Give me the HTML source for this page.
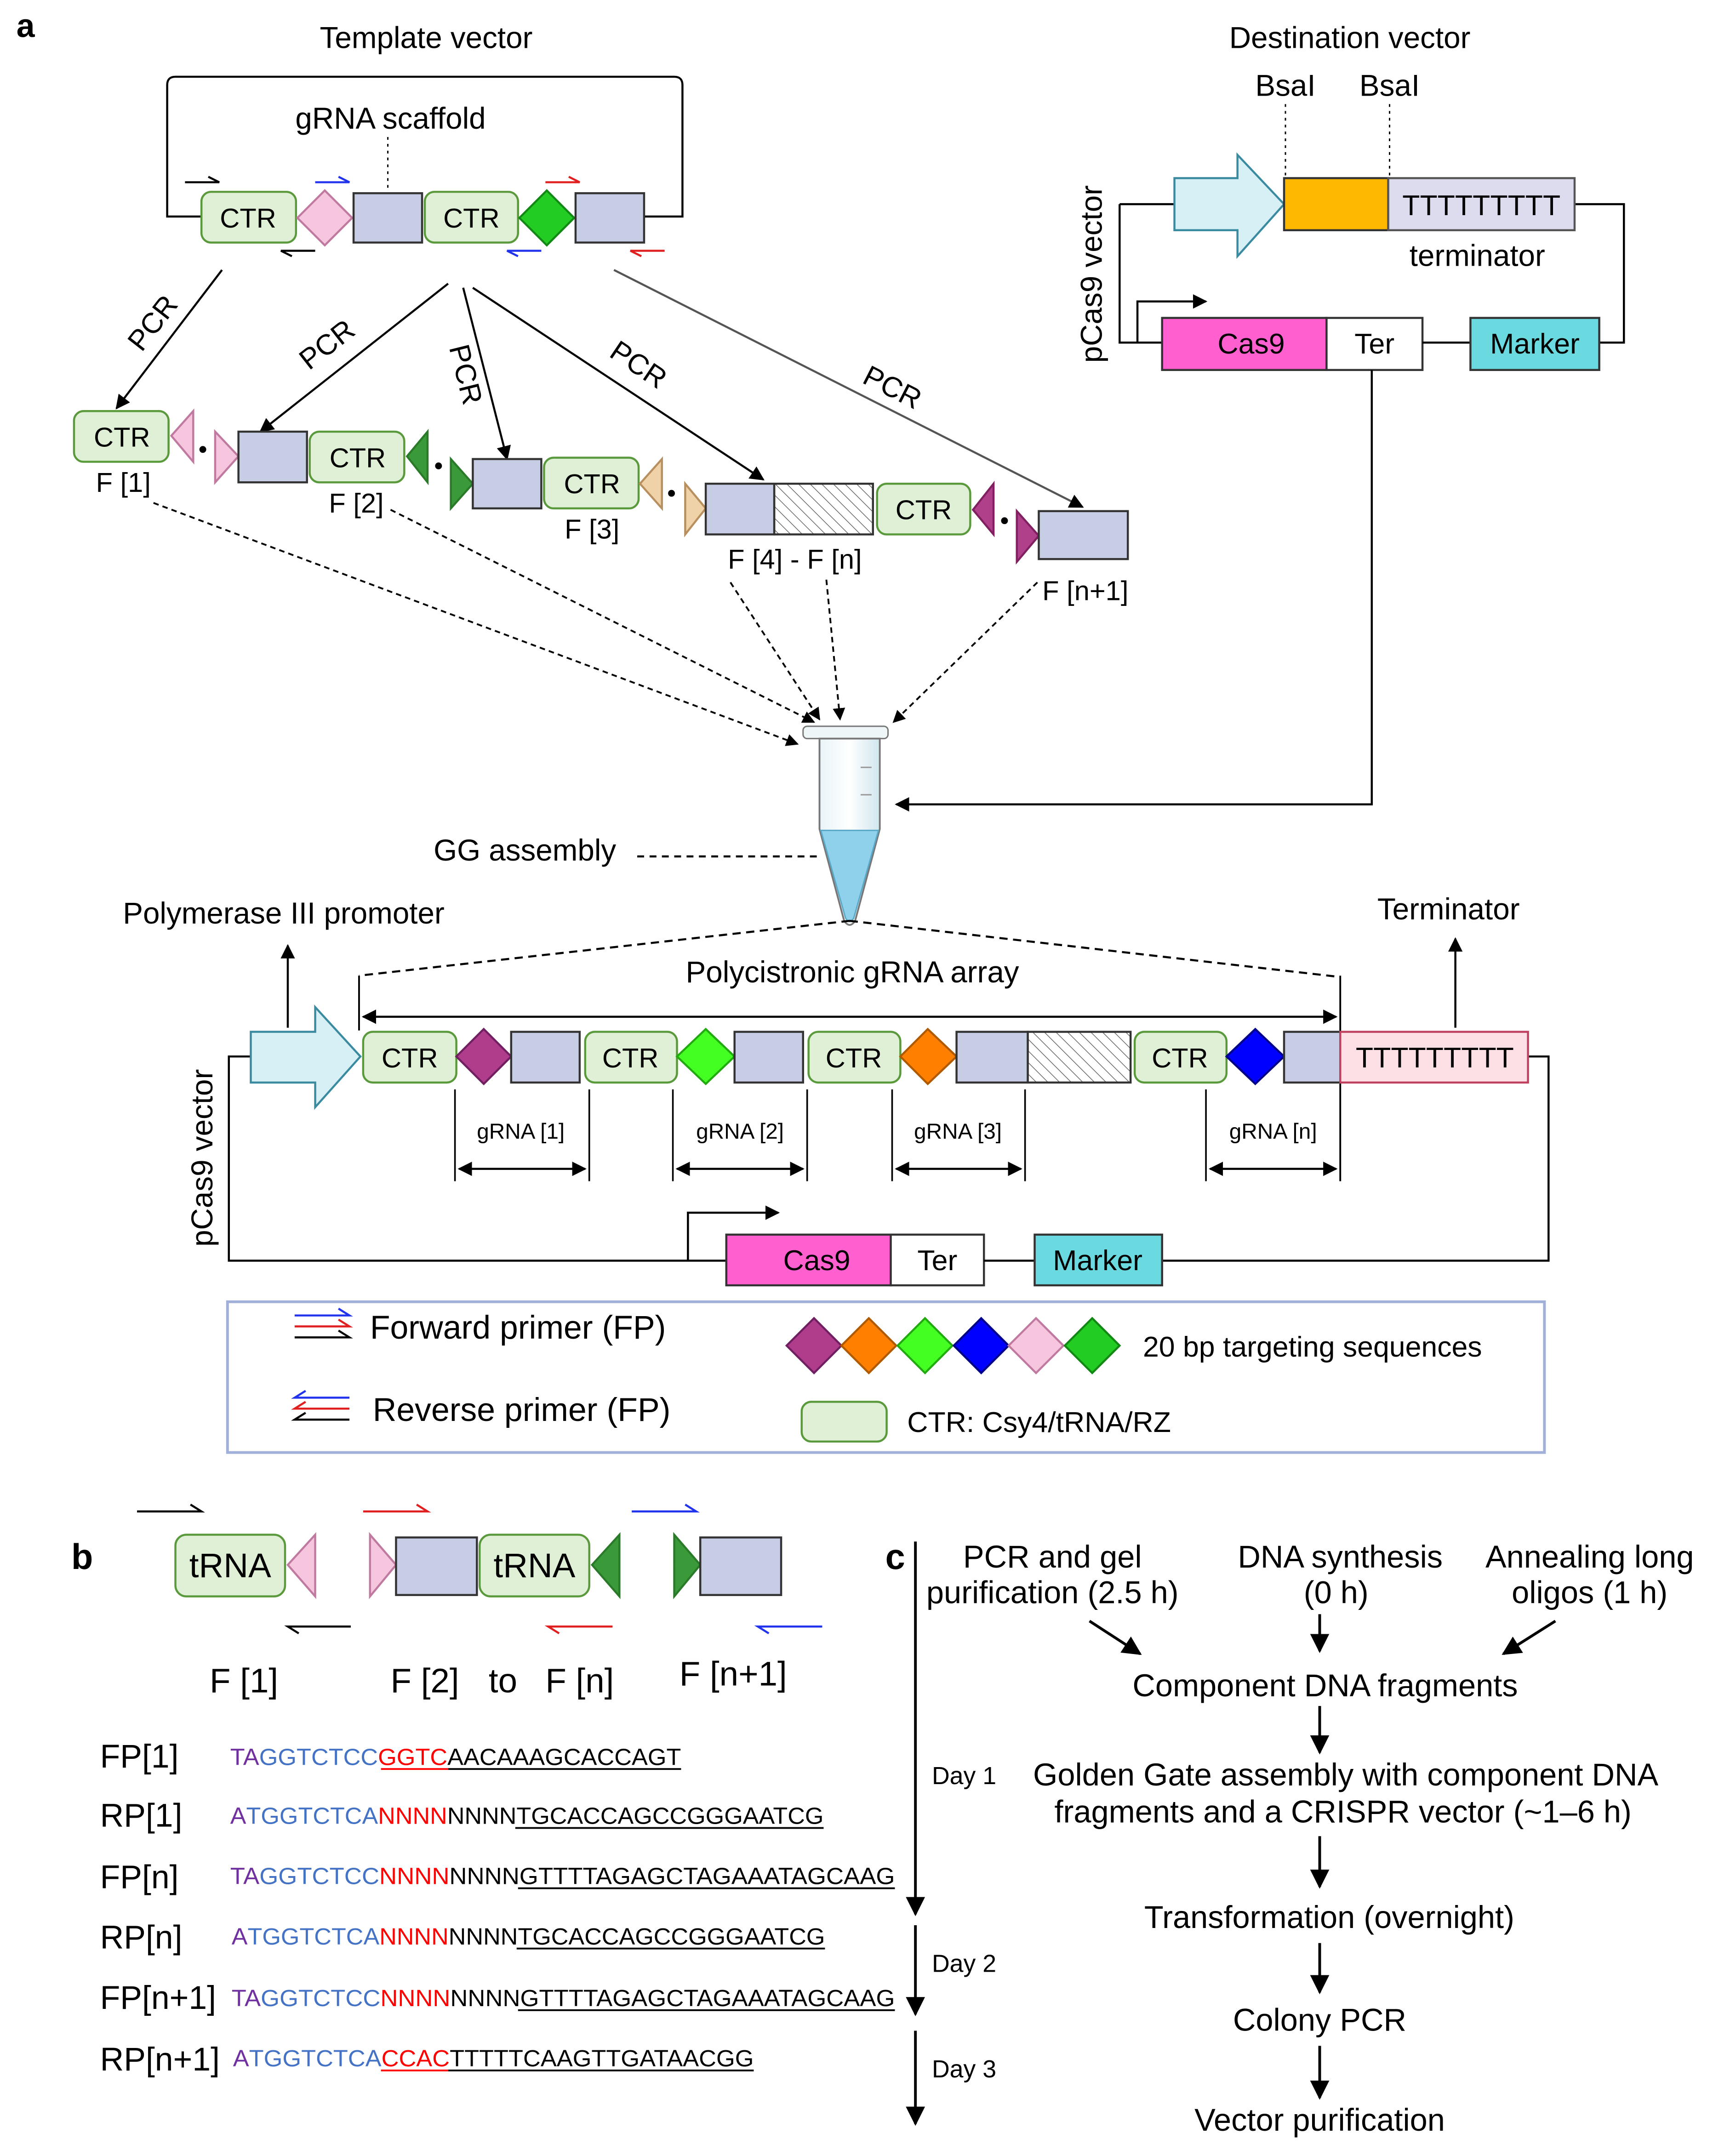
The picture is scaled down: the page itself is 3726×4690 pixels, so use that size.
<!DOCTYPE html>
<html><head><meta charset="utf-8"><style>html,body{margin:0;padding:0;background:#fff}svg{display:block}</style></head><body>
<svg xmlns="http://www.w3.org/2000/svg" width="3726" height="4690" viewBox="0 0 1250 1573.4" font-family="Liberation Sans, Arial, sans-serif">
<defs>
<marker id="ah" viewBox="0 0 10 10" refX="9" refY="5" markerWidth="7" markerHeight="7" orient="auto-start-reverse"><path d="M0,0 L10,5 L0,10 z" fill="#000"/></marker>
<pattern id="hatch" width="6" height="6" patternUnits="userSpaceOnUse" patternTransform="rotate(-45)"><rect width="6" height="6" fill="#fff"/><line x1="0" y1="0" x2="0" y2="6" stroke="#666" stroke-width="1"/></pattern>
<linearGradient id="tubeg" x1="0" x2="1"><stop offset="0" stop-color="#e8f4f8"/><stop offset="0.5" stop-color="#fff"/><stop offset="1" stop-color="#d0e6ee"/></linearGradient>
</defs>
<rect width="1250" height="1573.4" fill="#fff"/>
<g font-size="22" fill="#000">
<text x="12" y="27" font-size="24" font-weight="bold">a</text>
<text x="311" y="35" text-anchor="middle">Template vector</text>
<path d="M147,158 H122 V62 Q122,56 128,56 H492 Q498,56 498,62 V158 H470" fill="none" stroke="#000" stroke-width="1.5"/>
<text x="285" y="94" text-anchor="middle">gRNA scaffold</text>
<line x1="283" y1="100" x2="283" y2="140" stroke="#000" stroke-dasharray="2,3"/>
<g stroke-width="1.5">
<rect x="147" y="140" width="69" height="37" rx="7" fill="#dff0d6" stroke="#5a9a3c"/>
<path d="M237,139 L257,159 L237,179 L217,159z" fill="#f5c6de" stroke="#c07aa0"/>
<rect x="258" y="141" width="50" height="36" fill="#c8cde6" stroke="#333"/>
<rect x="310" y="140" width="68" height="37" rx="7" fill="#dff0d6" stroke="#5a9a3c"/>
<path d="M399,139 L419,159 L399,179 L379,159z" fill="#22cc22" stroke="#148814"/>
<rect x="420" y="141" width="50" height="36" fill="#c8cde6" stroke="#333"/>
</g>
<g font-size="20"><text x="181" y="166" text-anchor="middle">CTR</text><text x="344" y="166" text-anchor="middle">CTR</text></g>
<g fill="none" stroke-width="1.5">
<path d="M135,133 H160 L152,129" stroke="#000"/><path d="M230,183 H205 L213,187" stroke="#000"/>
<path d="M230,133 H255 L247,129" stroke="#2233ee"/><path d="M395,183 H370 L378,187" stroke="#2233ee"/>
<path d="M398,133 H423 L415,129" stroke="#e02020"/><path d="M485,183 H460 L468,187" stroke="#e02020"/>
</g>

<!-- destination vector -->
<text x="985" y="35" text-anchor="middle">Destination vector</text>
<text x="938" y="70" text-anchor="middle">BsaI</text><text x="1014" y="70" text-anchor="middle">BsaI</text>
<line x1="938" y1="76" x2="938" y2="130" stroke="#000" stroke-dasharray="2,3"/>
<line x1="1014" y1="76" x2="1014" y2="130" stroke="#000" stroke-dasharray="2,3"/>
<path d="M817,149 V250 H848 M1149,149 H1185 V250 H1167 M857,149 H817" fill="none" stroke="#000" stroke-width="1.5"/>
<path d="M857,130 H903 V113 L937,149 L903,187 V168 H857z" fill="#d6f0f5" stroke="#3a8aa0" stroke-width="1.5"/>
<rect x="937" y="130" width="76" height="38" fill="#ffb800" stroke="#333" stroke-width="1.5"/>
<rect x="1013" y="130" width="136" height="38" fill="#dcdcee" stroke="#555" stroke-width="1.5"/>
<text x="1081" y="157" text-anchor="middle" font-size="21">TTTTTTTTT</text>
<text x="1078" y="194" text-anchor="middle">terminator</text>
<text transform="translate(804,200) rotate(-90)" text-anchor="middle">pCas9 vector</text>
<path d="M830,250 V220 H880" fill="none" stroke="#000" stroke-width="1.5" marker-end="url(#ah)"/>
<rect x="848" y="232" width="120" height="38" fill="#ff5fcf" stroke="#333" stroke-width="1.5"/>
<rect x="968" y="232" width="70" height="38" fill="#fff" stroke="#333" stroke-width="1.5"/>
<line x1="1038" y1="250" x2="1073" y2="250" stroke="#000" stroke-width="1.5"/>
<rect x="1073" y="232" width="94" height="38" fill="#6bd9e0" stroke="#333" stroke-width="1.5"/>
<g font-size="21"><text x="913" y="258" text-anchor="middle">Cas9</text><text x="1003" y="258" text-anchor="middle">Ter</text><text x="1120" y="258" text-anchor="middle">Marker</text></g>
<path d="M1001,270 V587 H654" fill="none" stroke="#000" stroke-width="1.5" marker-end="url(#ah)"/>

<!-- PCR arrows -->
<g stroke="#000" stroke-width="1.5" marker-end="url(#ah)">
<line x1="162" y1="197" x2="85" y2="298"/>
<line x1="327" y1="207" x2="190" y2="315"/>
<line x1="338" y1="210" x2="370" y2="335"/>
<line x1="345" y1="210" x2="557" y2="350"/>
<line x1="448" y1="197" x2="790" y2="370" stroke="#555"/>
</g>
<g font-size="21">
<text transform="translate(117,240) rotate(-52)" text-anchor="middle">PCR</text>
<text transform="translate(243,257) rotate(-38)" text-anchor="middle">PCR</text>
<text transform="translate(333,275) rotate(76)" text-anchor="middle">PCR</text>
<text transform="translate(462,272) rotate(34)" text-anchor="middle">PCR</text>
<text transform="translate(648,289) rotate(27)" text-anchor="middle">PCR</text>
</g>

<!-- fragments -->
<g stroke-width="1.5">
<rect x="54" y="300" width="69" height="37" rx="7" fill="#dff0d6" stroke="#5a9a3c"/>
<path d="M125,318 L141,300 V337z" fill="#f5c6de" stroke="#c07aa0"/>
<path d="M157,315 L174,333 L157,352z" fill="#f5c6de" stroke="#c07aa0"/>
<rect x="174" y="315" width="50" height="37" fill="#c8cde6" stroke="#333"/>
<rect x="226" y="315" width="69" height="37" rx="7" fill="#dff0d6" stroke="#5a9a3c"/>
<path d="M297,333 L312,315 V352z" fill="#3a9a3a" stroke="#2a7a2a"/>
<path d="M329,335 L345,353 L329,371z" fill="#3a9a3a" stroke="#2a7a2a"/>
<rect x="345" y="335" width="50" height="36" fill="#c8cde6" stroke="#333"/>
<rect x="397" y="334" width="69" height="37" rx="7" fill="#dff0d6" stroke="#5a9a3c"/>
<path d="M467,353 L483,335 V371z" fill="#f0d2a8" stroke="#b89060"/>
<path d="M500,353 L515,371 L500,390z" fill="#f0d2a8" stroke="#b89060"/>
<rect x="515" y="353" width="50" height="37" fill="#c8cde6" stroke="#333"/>
<rect x="565" y="353" width="72" height="37" fill="url(#hatch)" stroke="#333"/>
<rect x="640" y="353" width="68" height="37" rx="7" fill="#dff0d6" stroke="#5a9a3c"/>
<path d="M710,372 L725,353 V390z" fill="#b0408a" stroke="#802060"/>
<path d="M742,373 L758,391 L742,410z" fill="#b0408a" stroke="#802060"/>
<rect x="758" y="373" width="65" height="35" fill="#c8cde6" stroke="#333"/>
</g>
<circle cx="148" cy="328" r="2.5"/><circle cx="320" cy="340" r="2.5"/><circle cx="490" cy="360" r="2.5"/><circle cx="733" cy="380" r="2.5"/>
<g font-size="20">
<text x="89" y="326" text-anchor="middle">CTR</text><text x="261" y="341" text-anchor="middle">CTR</text><text x="432" y="360" text-anchor="middle">CTR</text><text x="674" y="379" text-anchor="middle">CTR</text>
<text x="90" y="359" text-anchor="middle">F [1]</text><text x="260" y="374" text-anchor="middle">F [2]</text><text x="432" y="393" text-anchor="middle">F [3]</text>
<text x="580" y="415" text-anchor="middle">F [4] - F [n]</text><text x="792" y="438" text-anchor="middle">F [n+1]</text>
</g>

<g stroke="#000" stroke-width="1.3" stroke-dasharray="4,3" marker-end="url(#ah)" fill="none">
<line x1="112" y1="367" x2="582" y2="543"/>
<line x1="285" y1="372" x2="594" y2="527"/>
<line x1="533" y1="425" x2="598" y2="525"/>
<line x1="603" y1="423" x2="613" y2="525"/>
<line x1="757" y1="425" x2="652" y2="527"/>
</g>

<!-- tube -->
<rect x="586" y="530" width="62" height="9" rx="3" fill="#eef6f8" stroke="#777"/>
<path d="M598,539 H642 V605 L624,672 Q620,678 616,672 L598,605z" fill="url(#tubeg)" stroke="#777" stroke-width="1.3"/>
<path d="M599,606 H641 L623,670 Q620,675 617,670z" fill="#8fd0ea" stroke="#5aa8c8"/>
<line x1="628" y1="560" x2="636" y2="560" stroke="#999"/><line x1="628" y1="580" x2="636" y2="580" stroke="#999"/>

<text x="383" y="628" text-anchor="middle">GG assembly</text>
<line x1="465" y1="625" x2="600" y2="625" stroke="#000" stroke-dasharray="5,4" stroke-width="1.5"/>
<text x="207" y="674" text-anchor="middle">Polymerase III promoter</text>
<text x="1057" y="671" text-anchor="middle">Terminator</text>
<path d="M620,672 L262,712 M620,672 L978,713" stroke="#000" stroke-dasharray="6,4" stroke-width="1.5" fill="none"/>
<text x="622" y="717" text-anchor="middle">Polycistronic gRNA array</text>
<line x1="265" y1="742" x2="975" y2="742" stroke="#000" stroke-width="1.5" marker-start="url(#ah)" marker-end="url(#ah)"/>
<line x1="262" y1="712" x2="262" y2="752" stroke="#000" stroke-width="1.3"/>
<line x1="978" y1="712" x2="978" y2="862" stroke="#000" stroke-width="1.3"/>
<line x1="210" y1="750" x2="210" y2="690" stroke="#000" stroke-width="1.5" marker-end="url(#ah)"/>
<line x1="1062" y1="750" x2="1062" y2="685" stroke="#000" stroke-width="1.5" marker-end="url(#ah)"/>

<!-- array -->
<path d="M183,771 H167 V920 H530 M1115,771 H1130 V920 H848" fill="none" stroke="#000" stroke-width="1.5"/>
<g stroke-width="1.5">
<path d="M183,753 H230 V735 L263,771 L230,808 V790 H183z" fill="#d6f0f5" stroke="#3a8aa0"/>
<rect x="265" y="753" width="68" height="37" rx="7" fill="#dff0d6" stroke="#5a9a3c"/>
<path d="M353,751 L373,771 L353,791 L333,771z" fill="#b03c8c" stroke="#702060"/>
<rect x="373" y="753" width="50" height="37" fill="#c8cde6" stroke="#333"/>
<rect x="427" y="753" width="67" height="37" rx="7" fill="#dff0d6" stroke="#5a9a3c"/>
<path d="M515,751 L536,771 L515,791 L494,771z" fill="#44ff22" stroke="#22aa10"/>
<rect x="536" y="753" width="50" height="37" fill="#c8cde6" stroke="#333"/>
<rect x="590" y="753" width="67" height="37" rx="7" fill="#dff0d6" stroke="#5a9a3c"/>
<path d="M677,751 L698,771 L677,791 L657,771z" fill="#ff8000" stroke="#b05a00"/>
<rect x="698" y="753" width="52" height="37" fill="#c8cde6" stroke="#333"/>
<rect x="750" y="753" width="75" height="37" fill="url(#hatch)" stroke="#333"/>
<rect x="828" y="753" width="67" height="37" rx="7" fill="#dff0d6" stroke="#5a9a3c"/>
<path d="M916,751 L937,771 L916,791 L895,771z" fill="#0000ff" stroke="#000088"/>
<rect x="937" y="753" width="41" height="37" fill="#c8cde6" stroke="#333"/>
<rect x="978" y="753" width="137" height="37" fill="#fde0e6" stroke="#c04060"/>
</g>
<g font-size="20"><text x="299" y="779" text-anchor="middle">CTR</text><text x="460" y="779" text-anchor="middle">CTR</text><text x="623" y="779" text-anchor="middle">CTR</text><text x="861" y="779" text-anchor="middle">CTR</text>
<text x="1047" y="779" text-anchor="middle" font-size="21">TTTTTTTTT</text></g>
<text transform="translate(155,845) rotate(-90)" text-anchor="middle">pCas9 vector</text>
<g font-size="16" text-anchor="middle"><text x="380" y="831">gRNA [1]</text><text x="540" y="831">gRNA [2]</text><text x="699" y="831">gRNA [3]</text><text x="929" y="831">gRNA [n]</text></g>
<g stroke="#000" stroke-width="1.2">
<line x1="332" y1="795" x2="332" y2="862"/><line x1="430" y1="795" x2="430" y2="862"/>
<line x1="491" y1="795" x2="491" y2="862"/><line x1="589" y1="795" x2="589" y2="862"/>
<line x1="651" y1="795" x2="651" y2="862"/><line x1="748" y1="795" x2="748" y2="862"/>
<line x1="880" y1="795" x2="880" y2="862"/>
</g>
<g stroke="#000" stroke-width="1.5" marker-start="url(#ah)" marker-end="url(#ah)">
<line x1="335" y1="853" x2="427" y2="853"/><line x1="494" y1="853" x2="586" y2="853"/><line x1="654" y1="853" x2="745" y2="853"/><line x1="883" y1="853" x2="975" y2="853"/>
</g>
<path d="M502,920 V885 H568" fill="none" stroke="#000" stroke-width="1.5" marker-end="url(#ah)"/>
<rect x="530" y="901" width="120" height="37" fill="#ff5fcf" stroke="#333" stroke-width="1.5"/>
<rect x="650" y="901" width="68" height="37" fill="#fff" stroke="#333" stroke-width="1.5"/>
<line x1="718" y1="920" x2="755" y2="920" stroke="#000" stroke-width="1.5"/>
<rect x="755" y="901" width="93" height="37" fill="#6bd9e0" stroke="#333" stroke-width="1.5"/>
<g font-size="21"><text x="596" y="927" text-anchor="middle">Cas9</text><text x="684" y="927" text-anchor="middle">Ter</text><text x="801" y="927" text-anchor="middle">Marker</text></g>

<!-- legend -->
<rect x="166" y="950" width="961" height="110" fill="none" stroke="#a0b0d8" stroke-width="2"/>
<g fill="none" stroke-width="1.5">
<path d="M215,960 H255 L247,955" stroke="#2233ee"/><path d="M215,968 H255 L247,963" stroke="#e02020"/><path d="M215,976 H255 L247,971" stroke="#000"/>
<path d="M255,1020 H215 L223,1015" stroke="#2233ee"/><path d="M255,1028 H215 L223,1023" stroke="#e02020"/><path d="M255,1036 H215 L223,1031" stroke="#000"/>
</g>
<text x="270" y="977" font-size="24">Forward primer (FP)</text>
<text x="272" y="1037" font-size="24">Reverse primer (FP)</text>
<g stroke-width="1.5">
<path d="M594,962 L614,982 L594,1002 L574,982z" fill="#b03c8c" stroke="#702060"/>
<path d="M634,962 L654,982 L634,1002 L614,982z" fill="#ff8000" stroke="#b05a00"/>
<path d="M675,962 L695,982 L675,1002 L655,982z" fill="#44ff22" stroke="#22aa10"/>
<path d="M716,962 L736,982 L716,1002 L696,982z" fill="#0000ff" stroke="#000088"/>
<path d="M756,962 L776,982 L756,1002 L736,982z" fill="#f5c6de" stroke="#c07aa0"/>
<path d="M797,962 L817,982 L797,1002 L777,982z" fill="#22cc22" stroke="#148814"/>
<rect x="585" y="1023" width="62" height="29" rx="7" fill="#dff0d6" stroke="#5a9a3c"/>
</g>
<text x="834" y="990" font-size="21">20 bp targeting sequences</text>
<text x="662" y="1045" font-size="21">CTR: Csy4/tRNA/RZ</text>

<!-- panel b -->
<text x="52" y="1145" font-size="26" font-weight="bold">b</text>
<g fill="none" stroke-width="1.5">
<path d="M100,1103 H147 L139,1098" stroke="#000"/><path d="M256,1187 H210 L218,1192" stroke="#000"/>
<path d="M265,1103 H312 L304,1098" stroke="#e02020"/><path d="M447,1187 H400 L408,1192" stroke="#e02020"/>
<path d="M461,1103 H508 L500,1098" stroke="#2233ee"/><path d="M600,1187 H553 L561,1192" stroke="#2233ee"/>
</g>
<g stroke-width="1.5">
<rect x="128" y="1120" width="80" height="45" rx="8" fill="#dff0d6" stroke="#5a9a3c"/>
<path d="M210,1142 L230,1120 V1165z" fill="#f5c6de" stroke="#c07aa0"/>
<path d="M270,1120 L289,1142 L270,1165z" fill="#f5c6de" stroke="#c07aa0"/>
<rect x="289" y="1122" width="59" height="42" fill="#c8cde6" stroke="#333"/>
<rect x="350" y="1120" width="80" height="45" rx="8" fill="#dff0d6" stroke="#5a9a3c"/>
<path d="M432,1142 L452,1120 V1165z" fill="#3a9a3a" stroke="#2a7a2a"/>
<path d="M492,1120 L511,1142 L492,1165z" fill="#3a9a3a" stroke="#2a7a2a"/>
<rect x="511" y="1122" width="59" height="42" fill="#c8cde6" stroke="#333"/>
</g>
<g font-size="25" text-anchor="middle">
<text x="168" y="1151">tRNA</text><text x="390" y="1151">tRNA</text>
<text x="178" y="1235">F [1]</text><text x="310" y="1235">F [2]</text><text x="367" y="1235">to</text><text x="423" y="1235">F [n]</text><text x="535" y="1230">F [n+1]</text>
</g>
<g font-size="24">
<text x="73" y="1290">FP[1]</text><text x="73" y="1333">RP[1]</text><text x="73" y="1378">FP[n]</text><text x="73" y="1422">RP[n]</text><text x="73" y="1466">FP[n+1]</text><text x="73" y="1511">RP[n+1]</text>
</g>
<g font-size="17">
<text x="168" y="1288" textLength="329" lengthAdjust="spacingAndGlyphs"><tspan fill="#7030a0">TA</tspan><tspan fill="#4472c4">GGTCTCC</tspan><tspan fill="#ff0000">GGTC</tspan>AACAAAGCACCAGT</text>
<text x="168" y="1331" textLength="433" lengthAdjust="spacingAndGlyphs"><tspan fill="#7030a0">A</tspan><tspan fill="#4472c4">TGGTCTCA</tspan><tspan fill="#ff0000">NNNN</tspan>NNNNTGCACCAGCCGGGAATCG</text>
<text x="168" y="1375" textLength="485" lengthAdjust="spacingAndGlyphs"><tspan fill="#7030a0">TA</tspan><tspan fill="#4472c4">GGTCTCC</tspan><tspan fill="#ff0000">NNNN</tspan>NNNNGTTTTAGAGCTAGAAATAGCAAG</text>
<text x="169" y="1419" textLength="433" lengthAdjust="spacingAndGlyphs"><tspan fill="#7030a0">A</tspan><tspan fill="#4472c4">TGGTCTCA</tspan><tspan fill="#ff0000">NNNN</tspan>NNNNTGCACCAGCCGGGAATCG</text>
<text x="169" y="1464" textLength="484" lengthAdjust="spacingAndGlyphs"><tspan fill="#7030a0">TA</tspan><tspan fill="#4472c4">GGTCTCC</tspan><tspan fill="#ff0000">NNNN</tspan>NNNNGTTTTAGAGCTAGAAATAGCAAG</text>
<text x="170" y="1508" textLength="380" lengthAdjust="spacingAndGlyphs"><tspan fill="#7030a0">A</tspan><tspan fill="#4472c4">TGGTCTCA</tspan><tspan fill="#ff0000">CCAC</tspan>TTTTTCAAGTTGATAACGG</text>
</g>
<g stroke-width="1.3">
<line x1="278" y1="1291" x2="327" y2="1291" stroke="#ff0000"/><line x1="327" y1="1291" x2="497" y2="1291" stroke="#000"/>
<line x1="376" y1="1334" x2="601" y2="1334" stroke="#000"/>
<line x1="378" y1="1378" x2="653" y2="1378" stroke="#000"/>
<line x1="377" y1="1422" x2="602" y2="1422" stroke="#000"/>
<line x1="378" y1="1467" x2="653" y2="1467" stroke="#000"/>
<line x1="278" y1="1511" x2="327" y2="1511" stroke="#ff0000"/><line x1="327" y1="1511" x2="550" y2="1511" stroke="#000"/>
</g>

<!-- panel c -->
<text x="646" y="1145" font-size="26" font-weight="bold">c</text>
<g stroke="#000" stroke-width="2" marker-end="url(#ah)">
<line x1="668" y1="1125" x2="668" y2="1397"/>
<line x1="668" y1="1405" x2="668" y2="1470"/>
<line x1="668" y1="1482" x2="668" y2="1550"/>
<line x1="795" y1="1183" x2="832" y2="1207"/>
<line x1="963" y1="1178" x2="963" y2="1205"/>
<line x1="1135" y1="1183" x2="1097" y2="1207"/>
<line x1="963" y1="1245" x2="963" y2="1279"/>
<line x1="963" y1="1340" x2="963" y2="1377"/>
<line x1="963" y1="1418" x2="963" y2="1454"/>
<line x1="963" y1="1493" x2="963" y2="1531"/>
</g>
<g font-size="18"><text x="680" y="1302">Day 1</text><text x="680" y="1439">Day 2</text><text x="680" y="1516">Day 3</text></g>
<g font-size="23" text-anchor="middle">
<text x="768" y="1144">PCR and gel</text><text x="768" y="1170">purification (2.5 h)</text>
<text x="978" y="1144">DNA synthesis</text><text x="975" y="1170">(0 h)</text>
<text x="1160" y="1144">Annealing long</text><text x="1160" y="1170">oligos (1 h)</text>
<text x="967" y="1238">Component DNA fragments</text>
<text x="982" y="1303">Golden Gate assembly with component DNA</text>
<text x="980" y="1330">fragments and a CRISPR vector (~1–6 h)</text>
<text x="970" y="1407">Transformation (overnight)</text>
<text x="963" y="1482">Colony PCR</text>
<text x="963" y="1555">Vector purification</text>
</g>
</g>
</svg>
</body></html>
